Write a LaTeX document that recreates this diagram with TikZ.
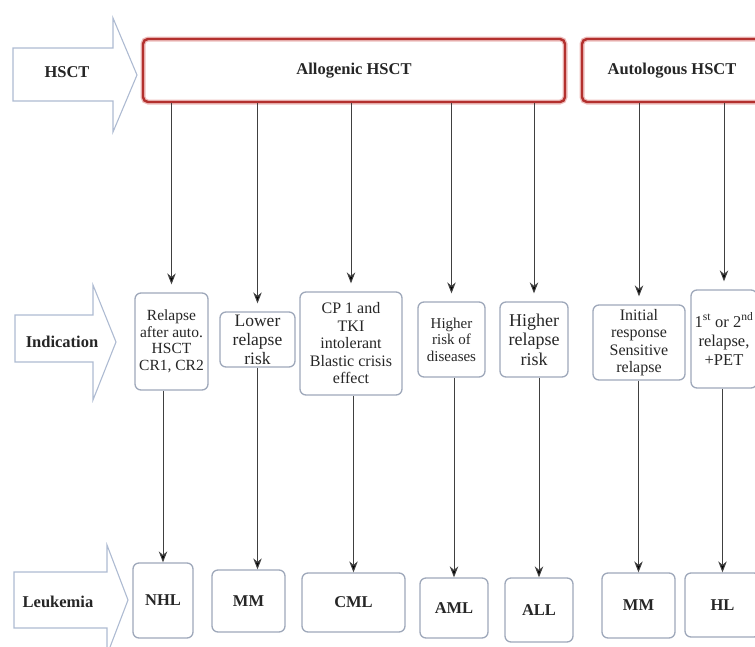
\documentclass[tikz,border=0pt]{standalone}
\usepackage{fontspec}
\setmainfont{Liberation Serif}
\usetikzlibrary{arrows.meta}

\definecolor{hsctred}{HTML}{B3302E}
\definecolor{glowred}{HTML}{EDBDBC}
\definecolor{boxgray}{HTML}{9EA8BA}
\definecolor{arrowblue}{HTML}{AEBBD2}
\definecolor{linegray}{HTML}{404040}
\newcommand{\fsz}[2]{\fontsize{#1}{#2}\selectfont}

\tikzset{
  blockarrow/.style={draw=arrowblue, line width=1.1pt, fill=white, line join=miter},
  rowlabel/.style={font=\bfseries\fsz{16.5}{19}, text=black!85},
  hsctbox/.style={draw=hsctred, line width=2.4pt, rounded corners=5pt, minimum height=63pt,
    font=\bfseries\fsz{16.5}{19}, text=black!85, preaction={draw=glowred, line width=5pt}},
  indbox/.style={draw=boxgray, line width=1.3pt, rounded corners=6pt, align=center,
    inner sep=0pt, text=black!85},
  leukbox/.style={indbox, font=\bfseries\fsz{16.5}{19}},
  flow/.style={draw=linegray, line width=1pt, -{Stealth[length=11pt,width=8.5pt,fill=black]}},
}

\begin{document}
\begin{tikzpicture}[x=1pt, y=-1pt]
\useasboundingbox (0,0) rectangle (755,646);

% row arrows on the left
\draw[blockarrow] (13,48) -- (113,48) -- (113,18) -- (137,75) -- (113,132) -- (113,101) -- (13,101) -- cycle;
\draw[blockarrow] (15,315) -- (93,315) -- (93,285) -- (116,342) -- (93,400) -- (93,362) -- (15,362) -- cycle;
\draw[blockarrow] (14,572) -- (107,572) -- (107,545) -- (128,600) -- (107,655) -- (107,628) -- (14,628) -- cycle;
\node[rowlabel] (rhsct) at (67,72) {HSCT};
\node[rowlabel] (rind) at (62,342) {Indication};
\node[rowlabel] (rleuk) at (58,602) {Leukemia};

% transplant type
\node[hsctbox, minimum width=422pt] (allo) at (354,70.5) {Allogenic HSCT};
\node[hsctbox, minimum width=180pt] (auto) at (672,70.5) {Autologous HSCT};

% indications
\node[indbox, minimum width=73pt, minimum height=97pt, font=\fsz{15.5}{16.5}] (relapse) at (171.5,341.5)
  {Relapse\\after auto.\\HSCT\\CR1, CR2};
\node[indbox, minimum width=75pt, minimum height=55pt, font=\fsz{17.5}{19}] (lower) at (257.5,339.5)
  {Lower\\relapse\\risk};
\node[indbox, minimum width=102pt, minimum height=103pt, font=\fsz{16}{17.5}] (cpone) at (351,343.5)
  {CP 1 and\\TKI\\intolerant\\Blastic crisis\\effect};
\node[indbox, minimum width=67pt, minimum height=75pt, font=\fsz{15}{16.5}] (hrisk) at (451.5,339.5)
  {Higher\\risk of\\diseases};
\node[indbox, minimum width=68pt, minimum height=75pt, font=\fsz{18}{19.5}] (hrel) at (534,339.5)
  {Higher\\relapse\\risk};
\node[indbox, minimum width=92pt, minimum height=75pt, font=\fsz{16}{17.5}] (initial) at (639,342.5)
  {Initial\\response\\Sensitive\\relapse};
\node[indbox, minimum width=66pt, minimum height=98pt, font=\fsz{16.5}{19}] (firstsec) at (724,339)
  {1\textsuperscript{st} or 2\textsuperscript{nd}\\relapse,\\+PET};

% leukemia types
\node[leukbox, minimum width=60pt, minimum height=75pt] (nhl) at (163,600.5) {NHL};
\node[leukbox, minimum width=73pt, minimum height=62pt] (mma) at (248.5,601) {MM};
\node[leukbox, minimum width=103pt, minimum height=59pt] (cml) at (353.5,602.5) {CML};
\node[leukbox, minimum width=68pt, minimum height=60pt] (aml) at (454,608) {AML};
\node[leukbox, minimum width=68pt, minimum height=64pt] (alll) at (539,610) {ALL};
\node[leukbox, minimum width=73pt, minimum height=65pt] (mmb) at (638.5,605.5) {MM};
\node[leukbox, minimum width=75pt, minimum height=64pt] (hl) at (722.5,605) {HL};

% connectors
\foreach \a/\b in {allo/relapse, allo/lower, allo/cpone, allo/hrisk, allo/hrel, auto/initial, auto/firstsec}
  \draw[flow, shorten >=8pt] (\a.south -| \b.north) -- (\b.north);
\draw[flow] (relapse.south -| nhl.north) -- (nhl.north);
\draw[flow] (lower.south) -- (lower.south |- mma.north);
\foreach \a/\b in {cpone/cml, hrisk/aml, hrel/alll, initial/mmb, firstsec/hl}
  \draw[flow] (\a.south -| \b.north) -- (\b.north);
\end{tikzpicture}
\end{document}
